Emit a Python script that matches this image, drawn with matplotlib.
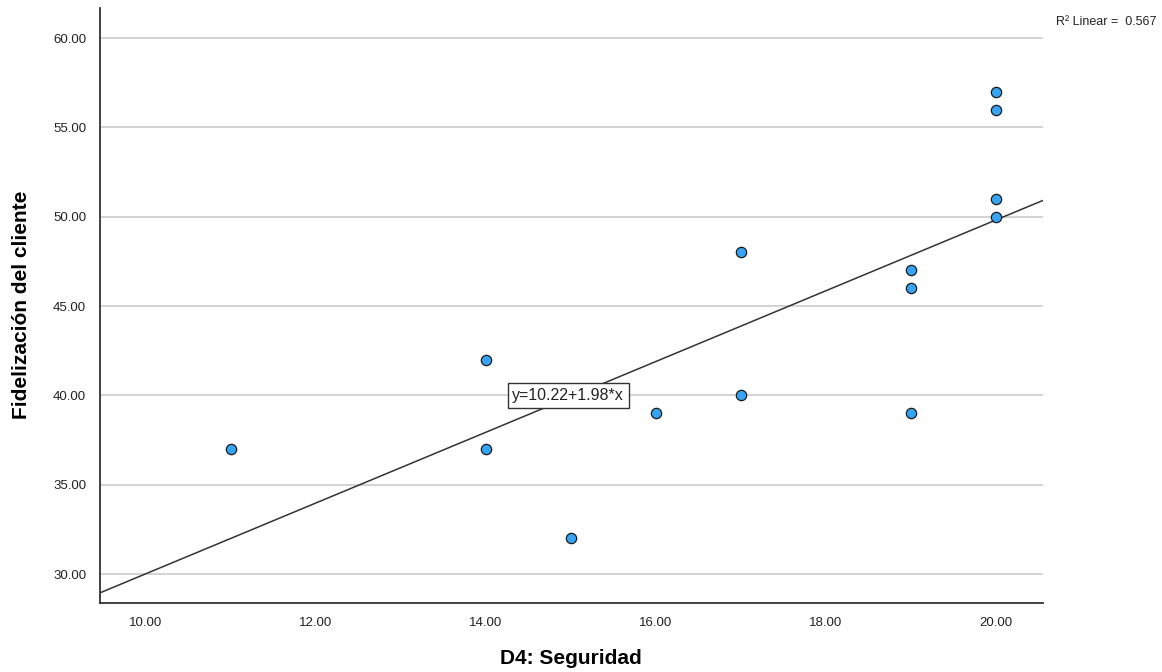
import numpy as np
import matplotlib
matplotlib.use("Agg")
import matplotlib.pyplot as plt

plt.rcParams['font.family'] = ['Liberation Sans', 'DejaVu Sans']

# data
seguridad = [11, 14, 14, 15, 16, 17, 17, 19, 19, 19, 20, 20, 20, 20]
fidelizacion = [37, 42, 37, 32, 39, 48, 40, 47, 46, 39, 57, 56, 51, 50]
intercept = 10.22
slope = 1.98
r2 = 0.567
xticks = [10, 12, 14, 16, 18, 20]
yticks = [30, 35, 40, 45, 50, 55, 60]

XMIN, XMAX = 9.459, 20.553
YMIN, YMAX = 28.38, 61.68

fig = plt.figure(figsize=(11.62, 6.72), dpi=100)
ax = fig.add_axes([0.0861, 0.1027, 0.8115, 0.8853])

for y in yticks:
    ax.axhline(y, color='#c8c8c8', lw=1.1, zorder=0)

xs = np.array([XMIN, XMAX])
ax.plot(xs, intercept + slope * xs, color='#333333', lw=1.1, zorder=2)

ax.scatter(seguridad, fidelizacion, s=55, facecolor='#36a4f4',
           edgecolor='#1a1a1a', linewidth=0.9, zorder=3)

ax.text(14.31, 40.0, f"y={intercept:.2f}+{slope:.2f}*x", fontsize=11.5,
        va='center', ha='left', color='#222222', zorder=4,
        bbox=dict(boxstyle='square,pad=0.3', facecolor='white',
                  edgecolor='#333333', linewidth=1))

fig.text(0.995, 0.967, f"R² Linear =  {r2:.3f}", fontsize=9,
         ha='right', va='center', color='#222222')

ax.set_xlim(XMIN, XMAX)
ax.set_ylim(YMIN, YMAX)
ax.set_xticks(xticks)
ax.set_yticks(yticks)
ax.set_xticklabels([f"{v:.2f}" for v in xticks])
ax.set_yticklabels([f"{v:.2f}" for v in yticks])
ax.tick_params(length=0, labelsize=9.5, colors='#222222', pad=10)
ax.spines['top'].set_visible(False)
ax.spines['right'].set_visible(False)
for s in ['left', 'bottom']:
    ax.spines[s].set_color('#333333')
    ax.spines[s].set_linewidth(1.3)

fig.text(571 / 1162, 1 - 658 / 672, "D4: Seguridad", fontsize=15,
         fontweight='bold', ha='center', va='center')
fig.text(22 / 1162, 1 - 305 / 672, "Fidelización del cliente", fontsize=15,
         fontweight='bold', ha='center', va='center', rotation=90)

fig.savefig("out.png", dpi=100)
